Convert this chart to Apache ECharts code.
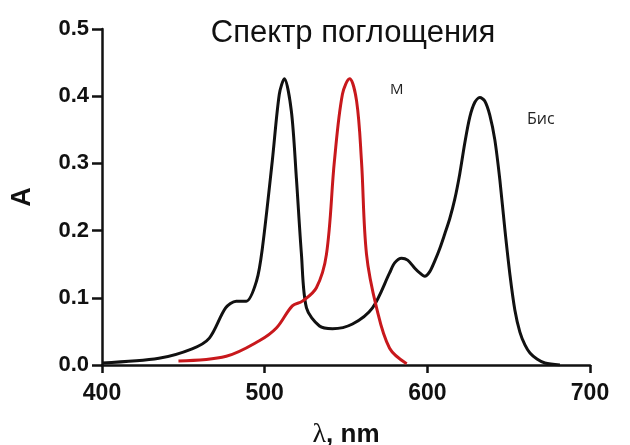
<!DOCTYPE html>
<html>
<head>
<meta charset="utf-8">
<script src="https://cdn.jsdelivr.net/npm/echarts@6/dist/echarts.min.js"></script>
<style>
  html, body { margin: 0; padding: 0; background: #fff; }
  #chart { width: 630px; height: 445px; }
</style>
</head>
<body>
<div id="chart"></div>
<script>
// Absorption spectrum of the bis form (black) and the M form (red)
const bisWavelength = [400, 435, 455.4, 466, 476, 482.5, 488.7, 495, 498.6, 504.7, 509, 512.1, 516.4, 519.5, 522.6, 525.7, 533.7, 541.7, 554, 566.3, 576.8, 579.9, 584.2, 587.9, 592.3, 595.3, 598.4, 601.5, 604.6, 607.6, 610.7, 613.8, 616.8, 619.9, 623.0, 626.1, 629.2, 632.3, 635.3, 638.4, 641.5, 644.6, 647.7, 650.8, 653.8, 656.9, 660.0, 663.1, 667.4, 672.3, 681.5];
const bisAbsorbance = [0.003, 0.010, 0.024, 0.040, 0.085, 0.095, 0.095, 0.125, 0.174, 0.304, 0.403, 0.426, 0.378, 0.278, 0.165, 0.085, 0.058, 0.054, 0.061, 0.085, 0.137, 0.152, 0.159, 0.156, 0.144, 0.137, 0.132, 0.139, 0.155, 0.173, 0.195, 0.218, 0.246, 0.284, 0.330, 0.369, 0.391, 0.398, 0.393, 0.372, 0.335, 0.275, 0.201, 0.134, 0.082, 0.049, 0.030, 0.018, 0.009, 0.003, 0.0];

const mWavelength = [447, 476.4, 496.7, 507.2, 517, 523.2, 531.8, 538, 542.9, 547.8, 552.2, 556.5, 559.5, 562.6, 568.8, 576.8, 587.3];
const mAbsorbance = [0.006, 0.013, 0.036, 0.055, 0.088, 0.095, 0.115, 0.165, 0.304, 0.403, 0.426, 0.393, 0.304, 0.165, 0.085, 0.025, 0.002];

const xTicks = [400, 500, 600, 700];
const yTicks = [0.0, 0.1, 0.2, 0.3, 0.4, 0.5];

const zip = (xs, ys) => xs.map((x, i) => [x, ys[i]]);

const chart = echarts.init(document.getElementById('chart'), null, { renderer: 'canvas' });

const sans = 'Liberation Sans, Arial, Helvetica, sans-serif';
const axisFont = { fontFamily: sans, fontWeight: 'bold', color: '#111' };

chart.setOption({
  animation: false,
  backgroundColor: '#fff',
  title: {
    text: 'Спектр поглощения',
    left: 348,
    top: 13,
    textAlign: 'center',
    textStyle: { fontFamily: sans, fontWeight: 'normal', fontSize: 31, color: '#111' }
  },
  grid: { left: 102, right: 40, top: 29, bottom: 80, containLabel: false, outerBoundsMode: 'none' },
  xAxis: {
    type: 'value',
    min: xTicks[0],
    max: xTicks[xTicks.length - 1],
    interval: 100,
    name: '{l|λ}, nm',
    nameLocation: 'middle',
    nameGap: 56,
    nameTextStyle: Object.assign({
      fontSize: 26,
      rich: { l: { fontFamily: 'Liberation Serif, Times New Roman, serif', fontWeight: 'normal', fontSize: 28, color: '#111' } }
    }, axisFont),
    axisLine: { lineStyle: { color: '#111', width: 2.5 } },
    axisTick: { show: true, inside: false, length: 8, lineStyle: { color: '#111', width: 2.5 } },
    axisLabel: Object.assign({ fontSize: 23, margin: 17 }, axisFont),
    splitLine: { show: false }
  },
  yAxis: {
    type: 'value',
    min: yTicks[0],
    max: yTicks[yTicks.length - 1],
    interval: 0.1,
    name: 'A',
    nameLocation: 'middle',
    nameGap: 66,
    nameRotate: 90,
    nameTextStyle: Object.assign({ fontSize: 27 }, axisFont),
    axisLine: { show: true, lineStyle: { color: '#111', width: 2.5 } },
    axisTick: { show: true, inside: false, length: 10, lineStyle: { color: '#111', width: 2.5 } },
    axisLabel: Object.assign({ fontSize: 22, margin: 13, formatter: v => v.toFixed(1) }, axisFont),
    splitLine: { show: false }
  },
  series: [
    {
      name: 'Бис',
      type: 'line',
      data: zip(bisWavelength, bisAbsorbance),
      smooth: 0.3,
      symbol: 'none',
      lineStyle: { color: '#111', width: 3 },
      z: 3
    },
    {
      name: 'М',
      type: 'line',
      data: zip(mWavelength, mAbsorbance),
      smooth: 0.35,
      symbol: 'none',
      lineStyle: { color: '#c8181c', width: 3 },
      z: 4
    }
  ],
  graphic: [
    { type: 'text', left: 390, top: 82, style: { text: 'М', font: '15px "Open Sans", sans-serif', fill: '#222' } },
    { type: 'text', left: 527, top: 111, style: { text: 'Бис', font: '16px "Open Sans", sans-serif', fill: '#222' } }
  ]
});
</script>
</body>
</html>
